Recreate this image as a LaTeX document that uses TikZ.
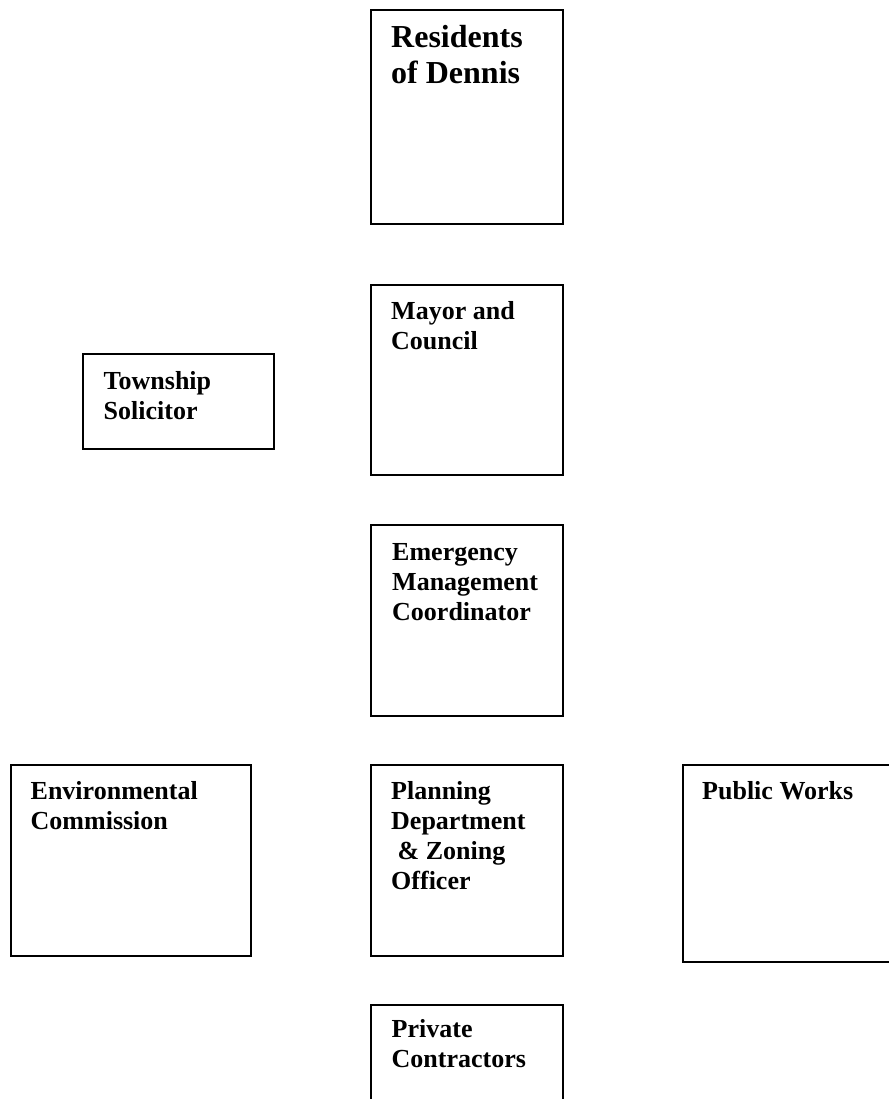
\documentclass[tikz,border=0pt]{standalone}
\usepackage{fontspec}
\setmainfont{Liberation Serif}
\newcommand\fstrut{\rule{0pt}{22pt}}
\newcommand\bstrut{\rule{0pt}{27pt}}
\tikzset{
  orgbox/.style={draw=black, line width=2pt, rectangle, inner sep=0pt, anchor=north west},
  orglabel/.style={anchor=north west, inner sep=0pt, align=left, font=\fontsize{26}{30}\selectfont\bfseries},
  biglabel/.style={anchor=north west, inner sep=0pt, align=left, font=\fontsize{32}{36}\selectfont\bfseries}
}
\begin{document}
\begin{tikzpicture}[x=1pt,y=-1pt]
\useasboundingbox[fill=white] (0,0) rectangle (888,1099);
% boxes
\node (res) [orgbox, minimum width=192pt, minimum height=214pt] at (370,9) {};
\node (may) [orgbox, minimum width=192pt, minimum height=190pt] at (370,284) {};
\node (tow) [orgbox, minimum width=191pt, minimum height=95pt] at (82,353) {};
\node (emg) [orgbox, minimum width=192pt, minimum height=191pt] at (370,524) {};
\node (env) [orgbox, minimum width=240pt, minimum height=191pt] at (10,764) {};
\node (pla) [orgbox, minimum width=192pt, minimum height=191pt] at (370,764) {};
\node (pub) [orgbox, minimum width=220pt, minimum height=197pt] at (682,764) {};
\node (pri) [orgbox, minimum width=192pt, minimum height=110pt] at (370,1004) {};
% labels
\node (resT) [biglabel] at (391,20) {\bstrut Residents\\of Dennis};
\node (mayT) [orglabel] at (391,297.5) {\fstrut Mayor and\\Council};
\node (towT) [orglabel] at (103.5,367.5) {\fstrut Township\\Solicitor};
\node (emgT) [orglabel] at (392,538) {\fstrut Emergency\\Management\\Coordinator};
\node (envT) [orglabel] at (30.5,777) {\fstrut Environmental\\Commission};
\node (plaT) [orglabel] at (391,777.5) {\fstrut Planning\\Department\\\hspace*{6.5pt}\& Zoning\\Officer};
\node (pubT) [orglabel] at (702,777) {\fstrut Public Works};
\node (priT) [orglabel] at (391.5,1015.7) {\fstrut Private\\Contractors};
\end{tikzpicture}
\end{document}
